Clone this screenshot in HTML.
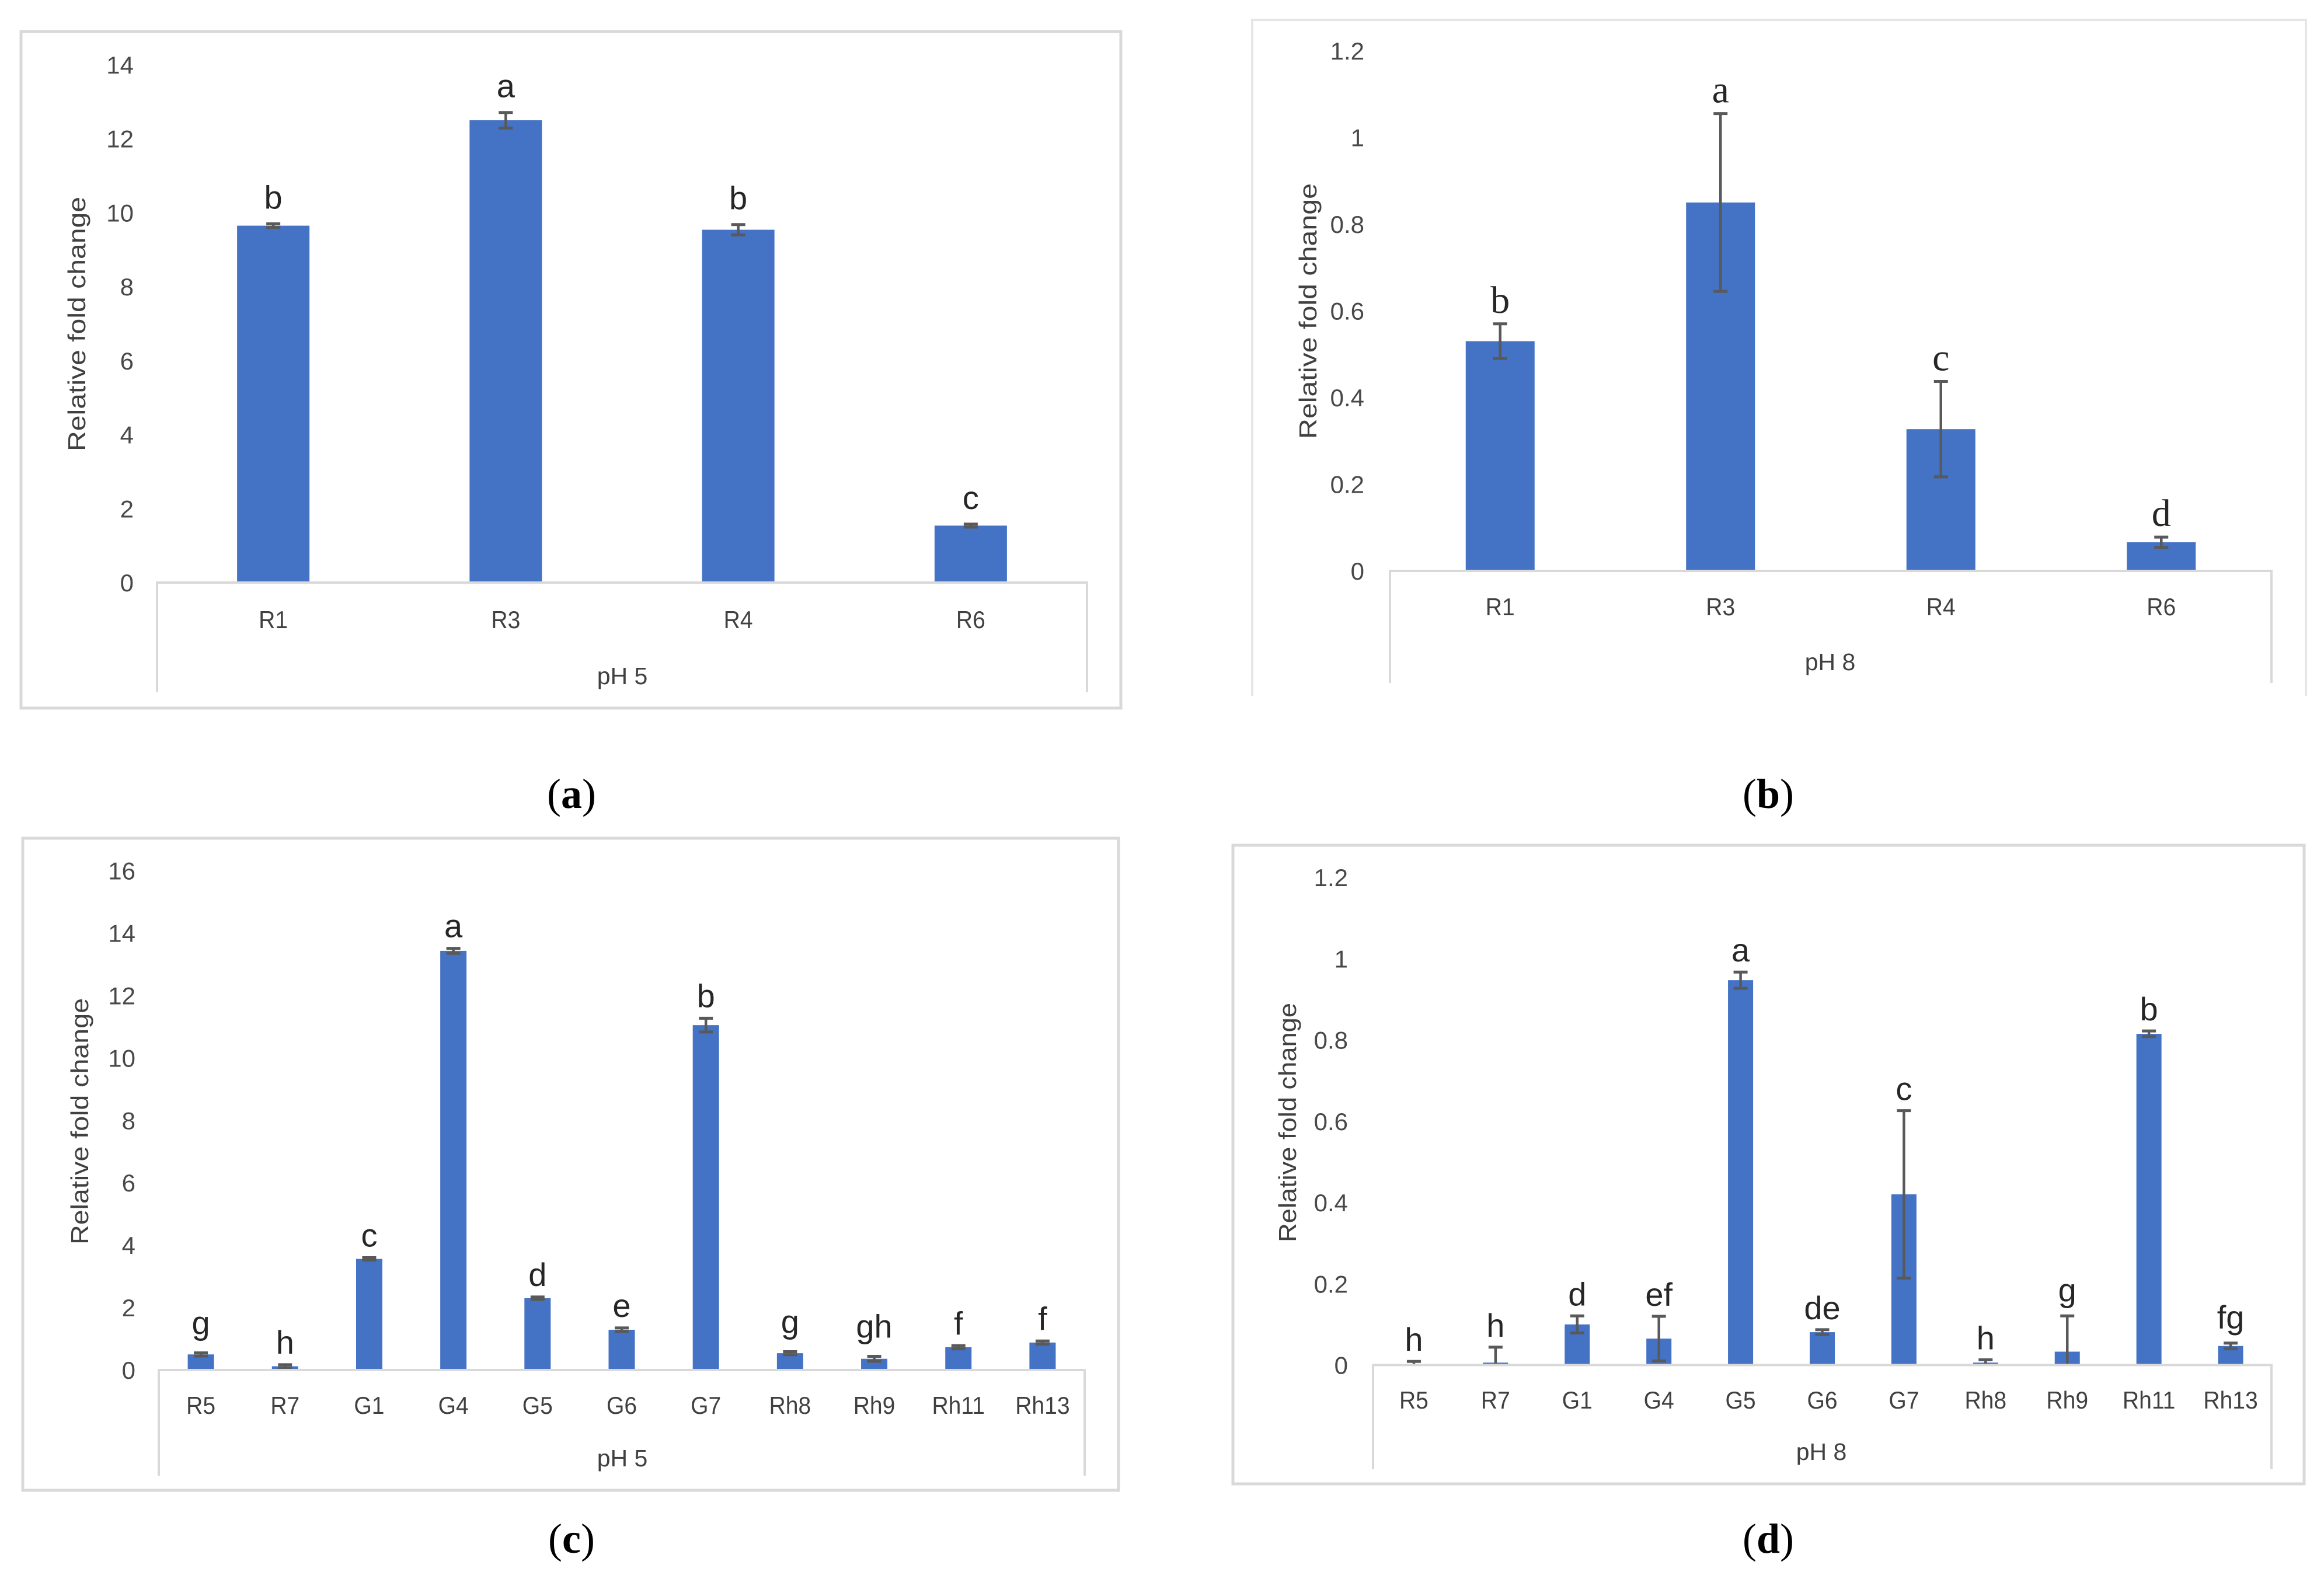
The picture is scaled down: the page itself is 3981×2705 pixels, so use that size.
<!DOCTYPE html>
<html lang="en">
<head>
<meta charset="utf-8">
<title>Relative fold change at pH 5 and pH 8</title>
<style>
html,body{margin:0;padding:0;background:#fff;}
svg{display:block;}
text{font-family:"Liberation Sans",sans-serif;}
</style>
</head>
<body>
<svg id="figure" xmlns="http://www.w3.org/2000/svg" width="3981" height="2705" viewBox="0 0 3981 2705">
<rect x="0" y="0" width="3981" height="2705" fill="#ffffff"/>
</svg>
<script>
const categoriesA = ['R1','R3','R4','R6'];
const valuesA = [9.65,12.5,9.54,1.54];
const errorsA = [0.05,0.21,0.14,0.04];
const lettersA = ['b','a','b','c'];
const ticksA = ['0','2','4','6','8','10','12','14'];

const categoriesB = ['R1','R3','R4','R6'];
const valuesB = [0.53,0.85,0.327,0.066];
const errorsB = [0.04,0.205,0.11,0.012];
const lettersB = ['b','a','c','d'];
const ticksB = ['0','0.2','0.4','0.6','0.8','1','1.2'];

const categoriesC = ['R5','R7','G1','G4','G5','G6','G7','Rh8','Rh9','Rh11','Rh13'];
const valuesC = [0.5,0.12,3.56,13.43,2.3,1.29,11.05,0.54,0.36,0.73,0.88];
const errorsC = [0.05,0.05,0.04,0.08,0.04,0.06,0.22,0.05,0.08,0.05,0.05];
const lettersC = ['g','h','c','a','d','e','b','g','gh','f','f'];
const ticksC = ['0','2','4','6','8','10','12','14','16'];

const categoriesD = ['R5','R7','G1','G4','G5','G6','G7','Rh8','Rh9','Rh11','Rh13'];
const valuesD = [0.001,0.006,0.1,0.065,0.947,0.081,0.42,0.006,0.033,0.815,0.047];
const errorsD = [0.008,0.038,0.021,0.055,0.02,0.006,0.206,0.007,0.088,0.007,0.007];
const lettersD = ['h','h','d','ef','a','de','c','h','g','b','fg'];
const ticksD = ['0','0.2','0.4','0.6','0.8','1','1.2'];

const SVGNS = 'http://www.w3.org/2000/svg';
const figure = document.getElementById('figure');

function makeLine(parent, x1, y1, x2, y2, stroke, width) {
  const l = document.createElementNS(SVGNS, 'line');
  l.setAttribute('x1', x1);
  l.setAttribute('y1', y1);
  l.setAttribute('x2', x2);
  l.setAttribute('y2', y2);
  l.setAttribute('stroke', stroke);
  l.setAttribute('stroke-width', width);
  parent.appendChild(l);
  return l;
}

function makeText(parent, content, x, y, size, fill, anchor) {
  const t = document.createElementNS(SVGNS, 'text');
  t.setAttribute('x', x);
  t.setAttribute('y', y);
  t.setAttribute('font-size', size);
  t.setAttribute('fill', fill);
  t.setAttribute('text-anchor', anchor);
  t.textContent = content;
  parent.appendChild(t);
  return t;
}

function drawPanel(p) {
  const g = document.createElementNS(SVGNS, 'g');
  
  
  figure.appendChild(g);

  const borderColor = p.openBottom ? '#e6e6e6' : '#d9d9d9';
  const borderWidth = p.openBottom ? 4 : 5;
  if (p.openBottom) {
    const border = document.createElementNS(SVGNS, 'path');
    
    
    border.setAttribute('d', 'M' + p.box[0] + ' ' + p.box[3] + 'V' + p.box[1] + 'H' + p.box[2] + 'V' + p.box[3]);
    border.setAttribute('fill', 'none');
    border.setAttribute('stroke', borderColor);
    border.setAttribute('stroke-width', borderWidth);
    g.appendChild(border);
  } else {
    const border = document.createElementNS(SVGNS, 'rect');
    
    
    border.setAttribute('x', p.box[0]);
    border.setAttribute('y', p.box[1]);
    border.setAttribute('width', p.box[2] - p.box[0]);
    border.setAttribute('height', p.box[3] - p.box[1]);
    border.setAttribute('fill', 'none');
    border.setAttribute('stroke', borderColor);
    border.setAttribute('stroke-width', borderWidth);
    g.appendChild(border);
  }

  const yMaxValue = parseFloat(p.ticks[p.ticks.length - 1]);
  const yScale = function (v) { return p.y0 - (v / yMaxValue) * (p.y0 - p.yTop); };
  const step = (p.x1 - p.x0) / p.categories.length;
  const xScale = function (i) { return p.x0 + step * (i + 0.5); };

  // tick labels
  p.ticks.forEach(function (tick) {
    const t = makeText(g, tick, p.tickRight, yScale(parseFloat(tick)) + 15, 42, '#484848', 'end');
    
    
  });

  // y axis title
  const cy = p.titleCenter;
  const title = makeText(g, 'Relative fold change', p.titleX, cy, 42, '#404040', 'middle');
  title.setAttribute('transform', 'rotate(-90 ' + p.titleX + ' ' + cy + ')');
  title.setAttribute('textLength', p.titleLength);
  title.setAttribute('lengthAdjust', 'spacingAndGlyphs');
  
  

  // bars
  p.values.forEach(function (v, i) {
    const bar = document.createElementNS(SVGNS, 'rect');
    
    
    bar.setAttribute('x', xScale(i) - p.barWidth / 2);
    bar.setAttribute('y', yScale(v));
    bar.setAttribute('width', p.barWidth);
    bar.setAttribute('height', Math.max(0, p.y0 - yScale(v)));
    bar.setAttribute('fill', '#4472c4');
    g.appendChild(bar);
  });

  // error bars
  p.values.forEach(function (v, i) {
    const e = p.errors[i];
    const cx = xScale(i);
    const hi = yScale(v + e);
    const lo = yScale(Math.max(0, v - e));
    const eg = document.createElementNS(SVGNS, 'g');
    
    
    g.appendChild(eg);
    makeLine(eg, cx, hi, cx, lo, '#595959', 4.5);
    makeLine(eg, cx - 12, hi, cx + 12, hi, '#595959', 5);
    if (v - e > 0) {
      makeLine(eg, cx - 12, lo, cx + 12, lo, '#595959', 5);
    }
  });

  // significance letters
  p.letters.forEach(function (letter, i) {
    const extra = /g/.test(letter) ? p.descenderLift : 0;
    const by = yScale(p.values[i] + p.errors[i]) - p.letterGap - extra;
    const t = makeText(g, letter, xScale(i), by, p.serifLetters ? 66 : 56, '#262626', 'middle');
    if (p.serifLetters) {
      t.setAttribute('style', 'font-family:"Liberation Serif",serif');
    }
    
    
  });

  // axis frame
  const axis = document.createElementNS(SVGNS, 'path');
  
  
  axis.setAttribute('d', 'M' + p.x0 + ' ' + p.tickBottom + 'V' + p.y0 + 'H' + p.x1 + 'V' + p.tickBottom);
  axis.setAttribute('fill', 'none');
  axis.setAttribute('stroke', '#d9d9d9');
  axis.setAttribute('stroke-width', 4);
  g.appendChild(axis);

  // category labels
  p.categories.forEach(function (c, i) {
    const t = makeText(g, c, xScale(i), p.catBaseline, 42, '#404040', 'middle');
    t.setAttribute('textLength', (t.getComputedTextLength() * 0.93).toFixed(1));
    t.setAttribute('lengthAdjust', 'spacingAndGlyphs');
    
    
  });

  const group = makeText(g, p.group, p.groupX, p.groupBaseline, 41, '#404040', 'middle');
  
  

  const cap = document.createElementNS(SVGNS, 'text');
  
  
  cap.setAttribute('x', p.captionX);
  cap.setAttribute('y', p.captionY);
  cap.setAttribute('font-size', 72);
  cap.setAttribute('fill', '#000000');
  cap.setAttribute('text-anchor', 'middle');
  cap.setAttribute('style', 'font-family:"Liberation Serif",serif');
  cap.appendChild(document.createTextNode('('));
  const capLetter = document.createElementNS(SVGNS, 'tspan');
  capLetter.setAttribute('font-weight', 'bold');
  capLetter.textContent = p.id;
  cap.appendChild(capLetter);
  cap.appendChild(document.createTextNode(')'));
  g.appendChild(cap);
}

drawPanel({
  id: 'a', categories: categoriesA, values: valuesA, errors: errorsA, letters: lettersA, ticks: ticksA,
  box: [36, 54, 1920, 1213], x0: 269, x1: 1862, y0: 998, yTop: 111, tickBottom: 1186, tickRight: 229,
  barWidth: 124, letterGap: 26, descenderLift: 0, catBaseline: 1076, group: 'pH 5', groupX: 1066, groupBaseline: 1172,
  titleX: 146, titleCenter: 555, titleLength: 436, captionX: 979, captionY: 1384
});
drawPanel({
  id: 'b', categories: categoriesB, values: valuesB, errors: errorsB, letters: lettersB, ticks: ticksB,
  box: [2145, 34, 3950, 1192], openBottom: true, x0: 2381, x1: 3891, y0: 978, yTop: 87, tickBottom: 1170, tickRight: 2337,
  barWidth: 118, letterGap: 19, descenderLift: 0, serifLetters: true, catBaseline: 1054, group: 'pH 8', groupX: 3135, groupBaseline: 1148,
  titleX: 2255, titleCenter: 533, titleLength: 438, captionX: 3029, captionY: 1384
});
drawPanel({
  id: 'c', categories: categoriesC, values: valuesC, errors: errorsC, letters: lettersC, ticks: ticksC,
  box: [39, 1436, 1916, 2553], x0: 272, x1: 1858, y0: 2347, yTop: 1491.5, tickBottom: 2528, tickRight: 232,
  barWidth: 45, letterGap: 19, descenderLift: 13, catBaseline: 2422, group: 'pH 5', groupX: 1066, groupBaseline: 2512,
  titleX: 151, titleCenter: 1921, titleLength: 422, captionX: 979, captionY: 2660
});
drawPanel({
  id: 'd', categories: categoriesD, values: valuesD, errors: errorsD, letters: lettersD, ticks: ticksD,
  box: [2112, 1448, 3947, 2542], x0: 2352, x1: 3891, y0: 2338.5, yTop: 1503, tickBottom: 2517, tickRight: 2309,
  barWidth: 43, letterGap: 18, descenderLift: 7, catBaseline: 2413, group: 'pH 8', groupX: 3120, groupBaseline: 2501,
  titleX: 2220, titleCenter: 1923, titleLength: 410, captionX: 3029, captionY: 2660
});
</script>
</body>
</html>
